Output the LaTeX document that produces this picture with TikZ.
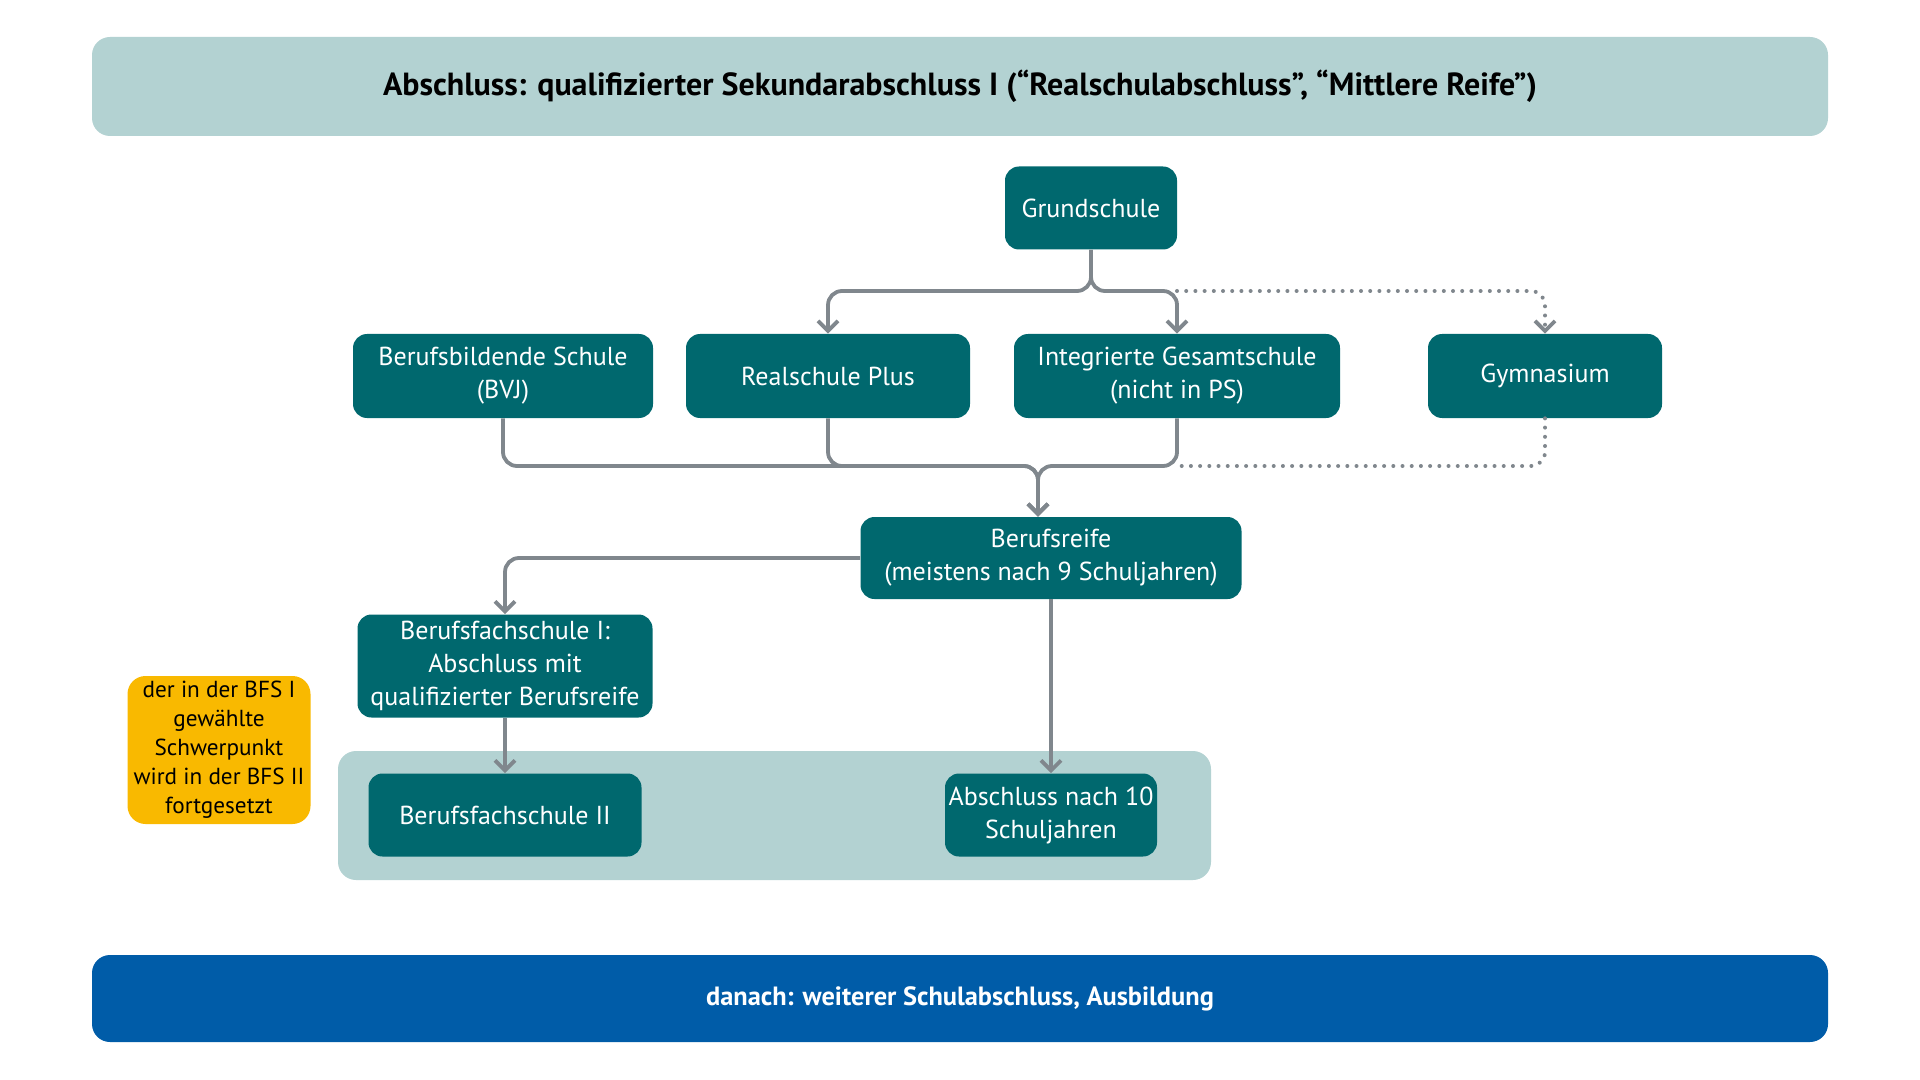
\documentclass[tikz,border=0pt]{standalone}
\usepackage{fontspec}
\setmainfont{PT Sans}
\usetikzlibrary{arrows.meta,positioning,calc}
\definecolor{schoolteal}{HTML}{00686E}
\definecolor{lightpanel}{HTML}{B3D2D2}
\definecolor{darkblue}{HTML}{005CA8}
\definecolor{notegold}{HTML}{F9B900}
\definecolor{flowgray}{HTML}{80878D}
\tikzset{
  x=0.5pt, y=-0.5pt,
  school/.style  = {draw=none, fill=schoolteal, text=white, rounded corners=7pt,
                    align=center, font=\fontsize{13}{16.5}\selectfont, inner sep=0pt},
  banner/.style  = {fill=lightpanel, rounded corners=9pt, minimum width=868pt,
                    font=\fontsize{16}{19}\selectfont\bfseries},
  note/.style    = {fill=notegold, rounded corners=9pt, align=center, inner sep=0pt,
                    font=\fontsize{11.6}{14.5}\selectfont},
  flow/.style    = {draw=flowgray, line width=1.9pt, rounded corners=7pt,
                    -{Straight Barb[length=5pt,width=10pt,line width=1.9pt]}},
  flowdot/.style = {draw=flowgray, line width=2pt, line cap=round, rounded corners=7pt,
                    dash pattern=on 0pt off 4.6pt},
  flowdotarr/.style = {flowdot, -{Straight Barb[length=5pt,width=10pt,line width=1.9pt]}}
}
\begin{document}
\begin{tikzpicture}
  \useasboundingbox (0,0) rectangle (1920,1080);
  \node[banner, minimum height=49.5pt] (top) at (960,86.5)
    {Abschluss: qualifizierter Sekundarabschluss I (“Realschulabschluss”, “Mittlere Reife”)};
  \node[banner, fill=darkblue, text=white, minimum height=43.5pt,
        font=\fontsize{13.2}{16}\selectfont\bfseries] (bottom) at (960,998.5)
    {danach: weiterer Schulabschluss, Ausbildung};
  \node[fill=lightpanel, rounded corners=9pt, minimum width=436.5pt, minimum height=64.5pt] (panel) at (774.5,815.5) {};

  \node[school, minimum width=86pt, minimum height=41.5pt] (gs) at (1091,208) {Grundschule};
  \node[school, minimum width=150pt, minimum height=42pt] (bbs) at (503,376) {Berufsbildende Schule\\(BVJ)};
  \node[school, minimum width=142pt, minimum height=42pt] (rp) at (828,376) {Realschule Plus};
  \node[school, minimum width=163pt, minimum height=42pt] (igs) at (1177,376) {Integrierte Gesamtschule\\(nicht in PS)};
  \node[school, minimum width=117pt, minimum height=42pt] (gym) at (1545,376) {Gymnasium};
  \node[school, minimum width=190.5pt, minimum height=41pt] (br) at (1051,558) {Berufsreife\\(meistens nach 9 Schuljahren)};
  \node[school, minimum width=147.5pt, minimum height=51.5pt] (bfs1) at (505,666) {Berufsfachschule I:\\Abschluss mit\\qualifizierter Berufsreife};
  \node[school, minimum width=136.5pt, minimum height=41.5pt] (bfs2) at (505,815) {Berufsfachschule II};
  \node[school, minimum width=106pt, minimum height=41.5pt] (abs10) at (1051,815) {Abschluss nach 10\\Schuljahren};
  \node[note, minimum width=91.5pt, minimum height=74pt] (hint) at (219,750)
    {der in der BFS I\\gewählte\\Schwerpunkt\\wird in der BFS II\\fortgesetzt};

  \coordinate (split) at (1091,291);
  \coordinate (igsup) at (igs.north |- split);
  \coordinate (merge) at (1038,466);
  \coordinate (brin) at (br.north -| merge);
  \coordinate (igslow) at (igs.south |- merge);

  \draw[flow] (gs.south) -- (split) -| (rp.north);
  \draw[flow] (gs.south) -- (split) -| (igs.north);
  \draw[flowdotarr] (igsup) -| (gym.north);
  \draw[flow] (bbs.south) |- (merge) -- (brin);
  \draw[flow] (rp.south) |- (merge) -- (brin);
  \draw[flow] (igs.south) |- (merge) -- (brin);
  \draw[flowdot] (gym.south) |- (igslow);
  \draw[flow] (br.west) -| (bfs1.north);
  \draw[flow] (br.south) -- (abs10.north);
  \draw[flow] (bfs1.south) -- (bfs2.north);
\end{tikzpicture}
\end{document}
